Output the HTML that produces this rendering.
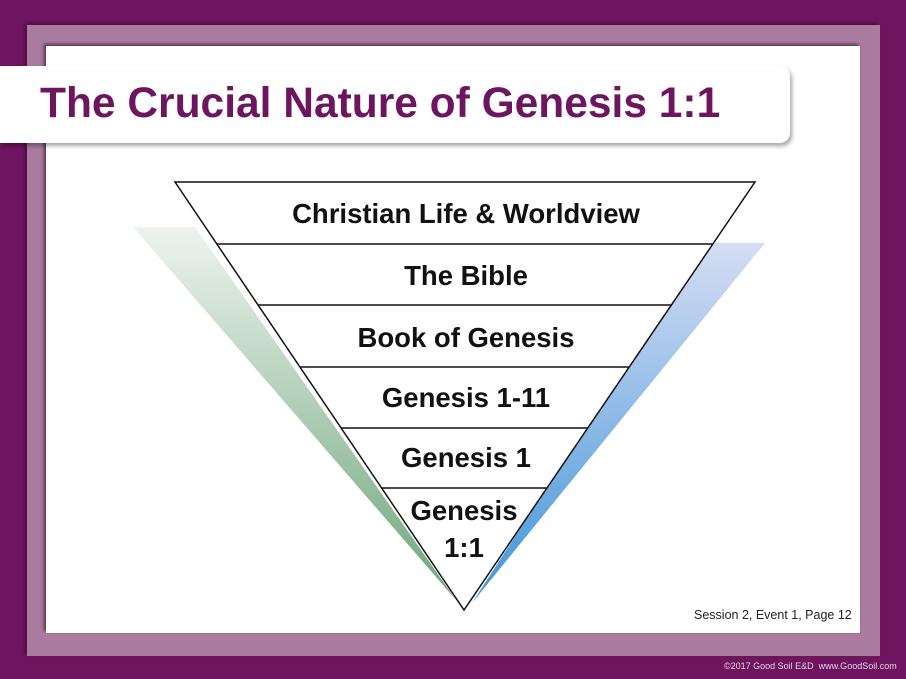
<!DOCTYPE html>
<html><head><style>
body{margin:0;width:906px;height:679px;background:#6e1560;position:relative;overflow:hidden;font-family:"Liberation Sans",sans-serif}
.frame{position:absolute;left:27px;top:25px;width:853px;height:631px;background:#a97b9f;box-shadow:-2px -2px 3px #4a0c40}
.inner{position:absolute;left:46px;top:46px;width:814px;height:587px;background:#fff;box-shadow:-2px -2px 3px #5a3050}
.title{position:absolute;left:0;top:66px;width:790px;height:77px;background:#fff;border-radius:0 10px 10px 0;box-shadow:2px 3px 4px rgba(0,0,0,.35)}
.title span{position:absolute;left:40px;top:14px;font-size:42.5px;font-weight:bold;color:#6e1560;white-space:nowrap}
.foot{position:absolute;left:694px;top:608px;font-size:12.5px;color:#222;white-space:nowrap}
.copy{position:absolute;left:724px;top:661px;font-size:9px;color:#e8d0e2;white-space:nowrap}
</style></head><body>
<div class="frame"></div>
<div class="inner"></div>
<div class="title"><span>The Crucial Nature of Genesis 1:1</span></div>
<svg width="906" height="679" style="position:absolute;left:0;top:0">
<defs>
<linearGradient id="g" x1="0" y1="0" x2="0" y2="1"><stop offset="0" stop-color="#eef3ef"/><stop offset="1" stop-color="#6fa67c"/></linearGradient>
<linearGradient id="b" x1="0" y1="0" x2="0" y2="1"><stop offset="0" stop-color="#d6ddf3"/><stop offset="1" stop-color="#3f95d8"/></linearGradient>
</defs>
<polygon points="133,227 195,227 456,600" fill="url(#g)"/>
<polygon points="765,243 705,243 472,603" fill="url(#b)"/>
<polygon points="175,182 755,182 464,610" fill="#fff" stroke="#111" stroke-width="1.5"/>
<g stroke="#111" stroke-width="1.5">
<line x1="217" y1="244" x2="713" y2="244"/>
<line x1="258" y1="305" x2="671" y2="305"/>
<line x1="300" y1="367" x2="629" y2="367"/>
<line x1="341" y1="428" x2="588" y2="428"/>
<line x1="381" y1="488" x2="547" y2="488"/>
</g>
<g font-family="Liberation Sans" font-weight="bold" font-size="27.5" text-anchor="middle" fill="#111">
<text x="466" y="223">Christian Life &amp; Worldview</text>
<text x="466" y="285">The Bible</text>
<text x="466" y="347">Book of Genesis</text>
<text x="466" y="407">Genesis 1-11</text>
<text x="466" y="467">Genesis 1</text>
<text x="464" y="520">Genesis</text>
<text x="464" y="557">1:1</text>
</g>
</svg>
<div class="foot">Session 2, Event 1, Page 12</div>
<div class="copy">©2017 Good Soil E&amp;D &nbsp;www.GoodSoil.com</div>
</body></html>
